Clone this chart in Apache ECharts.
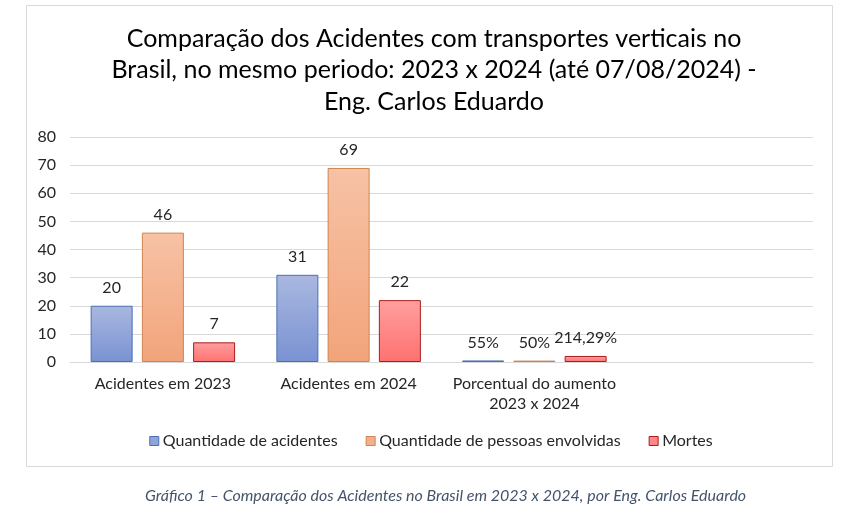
<!DOCTYPE html>
<html>
<head>
<meta charset="utf-8">
<script src="https://cdn.jsdelivr.net/npm/echarts@6/dist/echarts.min.js"></script>
<style>html,body{margin:0;padding:0;background:#fff;}#c{width:862px;height:519px;}</style>
</head>
<body>
<div id="c"></div>
<script>
const categories = ['Acidentes em 2023', 'Acidentes em 2024', 'Porcentual do aumento\n2023 x 2024', ''];
const seriesNames = ['Quantidade de acidentes', 'Quantidade de pessoas envolvidas', 'Mortes'];
const acidentes = [20, 31, 0.55, null];
const pessoas = [46, 69, 0.5, null];
const mortes = [7, 22, 2.1429, null];
const acidentesLabels = ['20', '31', '55%', ''];
const pessoasLabels = ['46', '69', '50%', ''];
const mortesLabels = ['7', '22', '214,29%', ''];
const yTicks = [0, 10, 20, 30, 40, 50, 60, 70, 80];

const FONT = 'Lato';
function grad(top, bottom) {
  return new echarts.graphic.LinearGradient(0, 0, 0, 1, [
    { offset: 0, color: top }, { offset: 1, color: bottom }
  ]);
}
const styles = [
  { fill: grad('#aab8e0', '#7992d2'), border: '#4a6fb5', legend: '#8fa5da' },
  { fill: grad('#f7c2a5', '#f2a47b'), border: '#d0834f', legend: '#f4b08e' },
  { fill: grad('#ff9f9f', '#ff7171'), border: '#a81e1e', legend: '#ff8787' }
];
const dataSets = [acidentes, pessoas, mortes];
const labelSets = [acidentesLabels, pessoasLabels, mortesLabels];

const chart = echarts.init(document.getElementById('c'), null, { renderer: 'canvas' });
chart.setOption({
  animation: false,
  backgroundColor: '#ffffff',
  textStyle: { fontFamily: FONT },
  title: {
    text: 'Comparação dos Acidentes com transportes verticais no\nBrasil, no mesmo periodo: 2023 x 2024 (até 07/08/2024) -\nEng. Carlos Eduardo',
    left: 429, top: 18, textAlign: 'center',
    textStyle: { fontFamily: FONT, fontSize: 25, fontWeight: 'normal', color: '#000000', lineHeight: 31.5 }
  },
  grid: { left: 70, right: 49, top: 137, bottom: 157, containLabel: false },
  legend: {
    data: seriesNames.map((n, i) => ({ name: n, itemStyle: { color: styles[i].legend, borderColor: styles[i].border, borderWidth: 1 } })),
    left: 'center', top: 428,
    icon: 'rect', itemWidth: 9, itemHeight: 9, itemGap: 28,
    textStyle: { fontFamily: FONT, fontSize: 16, color: '#262626', padding: [0, 0, 0, -1] }
  },
  xAxis: {
    type: 'category', data: categories,
    axisLine: { show: true, lineStyle: { color: '#d9d9d9', width: 1 } },
    axisTick: { show: false },
    axisLabel: { fontFamily: FONT, fontSize: 16, color: '#262626', margin: 12, lineHeight: 20, interval: 0 }
  },
  yAxis: {
    type: 'value', min: yTicks[0], max: yTicks[yTicks.length - 1], interval: yTicks[1] - yTicks[0],
    axisLine: { show: false }, axisTick: { show: false },
    splitLine: { lineStyle: { color: '#d9d9d9', width: 1 } },
    axisLabel: { fontFamily: FONT, fontSize: 16, color: '#262626', margin: 14 }
  },
  series: seriesNames.map((name, i) => ({
    name, type: 'bar', data: dataSets[i],
    barWidth: 42, barGap: '22%',
    itemStyle: { color: styles[i].fill, borderColor: styles[i].border, borderWidth: 1 },
    label: {
      show: true, position: 'top', distance: 10,
      fontFamily: FONT, fontSize: 16, color: '#262626',
      formatter: p => labelSets[i][p.dataIndex]
    }
  })),
  graphic: [
    { type: 'rect', silent: true, z: -1, shape: { x: 26.5, y: 5.5, width: 806, height: 461 },
      style: { fill: 'none', stroke: '#d9d9d9', lineWidth: 1 } },
    { type: 'text', left: 145, top: 488, silent: true,
      style: { text: 'Gráfico 1 – Comparação dos Acidentes no Brasil em 2023 x 2024, por Eng. Carlos Eduardo',
        fontFamily: FONT, fontStyle: 'italic', fontSize: 16, fill: '#44546a' } }
  ]
});
</script>
</body>
</html>
